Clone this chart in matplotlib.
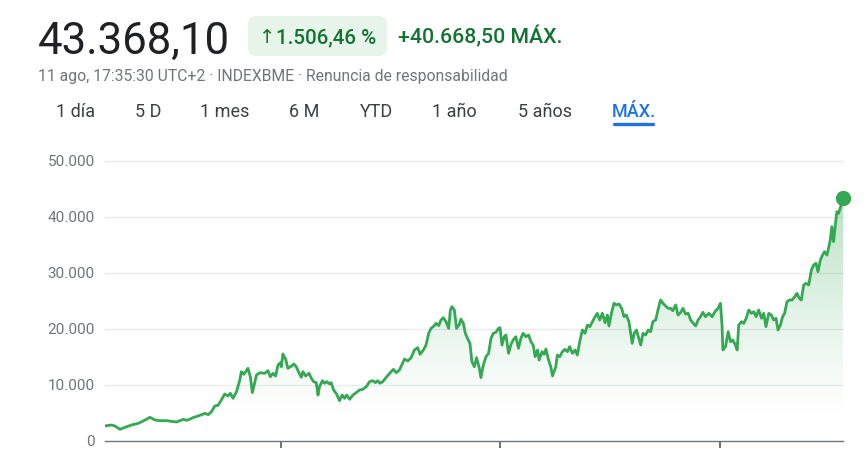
import numpy as np
import matplotlib
matplotlib.use("Agg")
import matplotlib.pyplot as plt
from matplotlib.patches import FancyBboxPatch
from matplotlib.transforms import Affine2D
from matplotlib.colors import to_rgb

plt.rcParams['font.family'] = ['Roboto', 'DejaVu Sans']

# ---- data ----
years = [
    1992.02, 1992.30, 1992.45, 1992.68, 1992.91, 1993.21, 1993.51, 1993.74, 1994.05, 1994.27,
    1994.50, 1994.80, 1995.03, 1995.26, 1995.56, 1995.74, 1996.01, 1996.32, 1996.55, 1996.70,
    1996.85, 1997.00, 1997.15, 1997.30, 1997.45, 1997.60, 1997.71, 1997.83, 1997.99, 1998.14,
    1998.21, 1998.32, 1998.41, 1998.51, 1998.62, 1998.71, 1998.90, 1999.05, 1999.27, 1999.42,
    1999.53, 1999.65, 1999.77, 1999.88, 1999.99, 2000.03, 2000.10, 2000.23, 2000.33, 2000.49,
    2000.60, 2000.71, 2000.83, 2000.94, 2001.01, 2001.14, 2001.29, 2001.40, 2001.50, 2001.62,
    2001.70, 2001.77, 2001.90, 2002.00, 2002.10, 2002.23, 2002.30, 2002.41, 2002.53, 2002.68,
    2002.80, 2002.91, 2003.01, 2003.14, 2003.29, 2003.44, 2003.59, 2003.74, 2003.90, 2004.05,
    2004.20, 2004.32, 2004.42, 2004.53, 2004.65, 2004.83, 2005.03, 2005.14, 2005.26, 2005.41,
    2005.64, 2005.79, 2005.94, 2006.09, 2006.24, 2006.35, 2006.50, 2006.62, 2006.74, 2006.85,
    2006.95, 2007.08, 2007.20, 2007.30, 2007.41, 2007.53, 2007.65, 2007.73, 2007.80, 2007.91,
    2008.01, 2008.14, 2008.21, 2008.32, 2008.41, 2008.51, 2008.62, 2008.71, 2008.82, 2008.92,
    2009.05, 2009.12, 2009.23, 2009.35, 2009.47, 2009.58, 2009.68, 2009.80, 2009.92, 2009.99,
    2010.08, 2010.18, 2010.26, 2010.38, 2010.49, 2010.59, 2010.71, 2010.83, 2010.94, 2011.04,
    2011.17, 2011.29, 2011.40, 2011.50, 2011.59, 2011.70, 2011.77, 2011.90, 2012.00, 2012.08,
    2012.20, 2012.30, 2012.38, 2012.53, 2012.60, 2012.71, 2012.83, 2012.95, 2013.06, 2013.16,
    2013.29, 2013.41, 2013.51, 2013.62, 2013.74, 2013.86, 2013.97, 2014.08, 2014.20, 2014.32,
    2014.42, 2014.53, 2014.65, 2014.77, 2014.88, 2014.95, 2015.08, 2015.18, 2015.29, 2015.41,
    2015.53, 2015.64, 2015.74, 2015.86, 2015.94, 2016.01, 2016.10, 2016.20, 2016.29, 2016.40,
    2016.50, 2016.62, 2016.74, 2016.85, 2016.95, 2017.08, 2017.20, 2017.30, 2017.41, 2017.53,
    2017.65, 2017.76, 2017.86, 2017.99, 2018.10, 2018.21, 2018.32, 2018.44, 2018.56, 2018.67,
    2018.77, 2018.90, 2019.01, 2019.12, 2019.23, 2019.35, 2019.50, 2019.65, 2019.80, 2019.92,
    2020.03, 2020.10, 2020.14, 2020.26, 2020.38, 2020.49, 2020.59, 2020.71, 2020.79, 2020.86,
    2020.99, 2021.09, 2021.20, 2021.32, 2021.44, 2021.55, 2021.65, 2021.77, 2021.90, 2022.00,
    2022.10, 2022.23, 2022.35, 2022.45, 2022.56, 2022.65, 2022.76, 2022.86, 2022.95, 2023.06,
    2023.17, 2023.29, 2023.41, 2023.51, 2023.62, 2023.71, 2023.82, 2023.92, 2024.05, 2024.17,
    2024.27, 2024.38, 2024.47, 2024.58, 2024.68, 2024.77, 2024.88, 2024.95, 2025.03, 2025.10,
    2025.18, 2025.26, 2025.33, 2025.41, 2025.49, 2025.61,
]
values = [
    2700, 2860, 2680, 2090, 2440, 2860, 3150, 3570, 4230, 3750,
    3630, 3630, 3510, 3390, 3870, 3690, 4170, 4580, 4940, 4700,
    5240, 6250, 6370, 7320, 8390, 8040, 8510, 7620, 8810, 10890,
    12380, 11910, 12380, 12980, 11480, 8630, 11790, 12200, 12080, 12560,
    11480, 12080, 11610, 13570, 13990, 13270, 15540, 14580, 12980, 13390,
    13750, 13270, 12200, 11370, 12380, 11610, 12080, 11190, 10600, 10420,
    8210, 9700, 10770, 10300, 10600, 10180, 10420, 9110, 8510, 7200,
    8210, 7620, 8210, 7440, 8210, 8630, 9110, 9230, 9700, 10600,
    10770, 10420, 10770, 10300, 10600, 11480, 12380, 12800, 12200, 12680,
    14640, 14290, 14880, 16250, 16670, 15480, 16250, 17140, 19230, 20120,
    20420, 21010, 20600, 21610, 22020, 21310, 20120, 23390, 23990, 23390,
    20120, 20830, 21790, 21010, 19230, 18330, 17440, 14160, 13270, 14880,
    12980, 11310, 13570, 15060, 15660, 18330, 19230, 19400, 20120, 20240,
    17140, 18630, 18930, 15660, 17260, 18040, 18630, 16550, 18330, 19230,
    18630, 18930, 17730, 17140, 15060, 16250, 14460, 15950, 15480, 16430,
    14460, 13270, 11610, 13270, 15360, 15060, 15950, 16370, 15950, 16850,
    15660, 16250, 15360, 17730, 19820, 19230, 20710, 20420, 21310, 22200,
    22800, 21610, 22800, 21130, 22500, 20540, 23090, 24590, 24290, 24460,
    23690, 22200, 22500, 21310, 19230, 17440, 19230, 19820, 18630, 17140,
    19230, 18930, 19820, 19520, 21310, 21610, 23690, 25180, 24590, 24110,
    23690, 23690, 23270, 24290, 22500, 22910, 23690, 22680, 22800, 21610,
    21130, 20540, 21610, 22200, 22980, 22200, 22800, 22200, 23210, 23690,
    24590, 20710, 16250, 16850, 19520, 17730, 18040, 17140, 16250, 20710,
    21310, 21010, 21910, 23390, 22800, 23090, 22200, 23390, 21910, 22800,
    20420, 22800, 22500, 21610, 21910, 19820, 20710, 22200, 22800, 24880,
    25180, 25180, 25770, 26370, 25480, 25180, 27860, 28160, 27860, 30540,
    31430, 31730, 30240, 32320, 33210, 33800, 33210, 34410, 35890, 38270,
    35590, 38570, 40950, 40650, 41660, 43368.10,
]
y_ticks = [0, 10000, 20000, 30000, 40000, 50000]
y_labels = ["0", "10.000", "20.000", "30.000", "40.000", "50.000"]
x_ticks = [2000, 2010, 2020]
ranges = ["1 día", "5 D", "1 mes", "6 M", "YTD", "1 año", "5 años", "MÁX."]
range_x = [76, 148, 224.5, 304.5, 376.5, 454.5, 544.5, 634]

GREEN = "#34a853"
DARK_GREEN = "#137333"
GRAY = "#70757a"

W, H = 867, 455
fig = plt.figure(figsize=(W / 100, H / 100), dpi=100)
fig.patch.set_facecolor("white")
# pixel coords, origin top-left
px = Affine2D().scale(1 / W, -1 / H).translate(0, 1) + fig.transFigure

# header
fig.text(38, 54, "43.368,10", transform=px, fontsize=31.5, color="#202124",
         va="baseline", ha="left")
badge = FancyBboxPatch((248, 16), 139, 40, boxstyle="round,pad=0,rounding_size=8",
                       transform=px, facecolor="#e6f4ea", edgecolor="none")
fig.patches.append(badge)
fig.text(259, 43, "↑", transform=px, fontsize=14, color=DARK_GREEN, va="baseline",
         ha="left", family=["DejaVu Sans"])
fig.text(276, 43, "1.506,46 %", transform=px, fontsize=14.8, color=DARK_GREEN,
         va="baseline", ha="left", fontweight="medium")
fig.text(398, 43, "+40.668,50 MÁX.", transform=px, fontsize=15.3, color=DARK_GREEN,
         va="baseline", ha="left", fontweight="medium")
fig.text(38, 81, "11 ago, 17:35:30 UTC+2 · INDEXBME · Renuncia de responsabilidad",
         transform=px, fontsize=11.3, color=GRAY, va="baseline", ha="left")

for lab, cx in zip(ranges, range_x):
    col = "#1a73e8" if lab == "MÁX." else "#3c4043"
    fig.text(cx, 117, lab, transform=px, fontsize=13, color=col, va="baseline",
             ha="center", fontweight="medium" if lab == "MÁX." else "normal")
fig.add_artist(plt.Line2D([614, 653], [123.5, 123.5], transform=px, color="#1a73e8",
                          linewidth=2.4, solid_capstyle="round"))

# chart
ax = fig.add_axes([105 / W, 1 - 441 / H, (843 - 105) / W, (441 - 161) / H])
x0, x1 = 1992.0, years[-1]
ymax = 50000

# gradient fill under the line
lv = np.linspace(0, ymax, 300)
alpha = np.clip((lv - 4000) / (values[-1] - 4000), 0, 1) ** 1.2 * 0.34
rgba = np.zeros((300, 1, 4))
rgba[..., :3] = to_rgb(GREEN)
rgba[..., 3] = alpha[:, None]
im = ax.imshow(rgba, extent=[x0, x1, 0, ymax], origin="lower", aspect="auto",
               zorder=1, interpolation="bilinear")
poly = ax.fill_between(years, values, 0, color="none", linewidth=0)
im.set_clip_path(poly.get_paths()[0], transform=ax.transData)

ax.plot(years, values, color=GREEN, linewidth=2.0, zorder=3, solid_joinstyle="round")
ax.plot([years[-1]], [values[-1]], "o", color=GREEN, markersize=10, zorder=4,
        clip_on=False)

ax.set_xlim(x0, x1)
ax.set_ylim(0, ymax)
for v in y_ticks[1:]:
    ax.axhline(v, color="#e8eaed", linewidth=0.9, zorder=0, clip_on=False)

ax.set_yticks(y_ticks)
ax.set_yticklabels(y_labels)
ax.tick_params(axis="y", length=0, pad=7.5, labelsize=11, labelcolor=GRAY)
ax.set_xticks(x_ticks)
ax.set_xticklabels([])
ax.tick_params(axis="x", length=5, width=1.5, color=GRAY, direction="out")

for s in ["top", "right", "left"]:
    ax.spines[s].set_visible(False)
ax.spines["bottom"].set_color(GRAY)
ax.spines["bottom"].set_linewidth(1.0)
ax.set_facecolor("none")

fig.savefig("out.png", dpi=100)
